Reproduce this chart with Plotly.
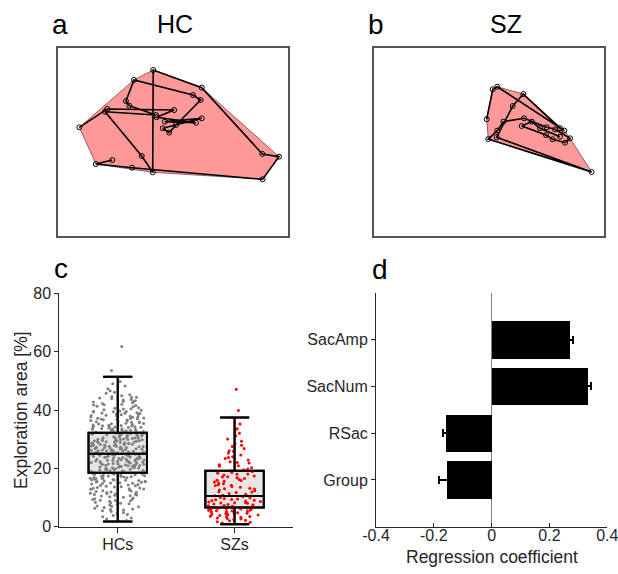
import plotly.graph_objects as go

# ---------------- data ----------------
# Panel a (HC) fixation positions (screen px), in scan order
hc_fix_x = [119, 274, 646, 549, 768, 595, 800, 583, 619, 657, 794, 751, 423, 378, 397, 545, 262, 466, 527, 530, 800, 1137, 1230, 1139, 412, 211, 302]
hc_fix_y = [432, 332, 338, 377, 407, 401, 383, 437, 461, 419, 283, 256, 174, 289, 314, 365, 347, 588, 677, 120, 216, 577, 592, 715, 652, 632, 610]

# Panel b (SZ) fixation positions (screen px), in scan order
sz_fix_x = [627, 661, 686, 1059, 1035, 831, 772, 683, 1211, 636, 686, 720, 835, 961, 1007, 1091, 1063, 994, 957, 822, 878, 924, 1035]
sz_fix_y = [388, 225, 211, 450, 437, 251, 316, 486, 675, 496, 450, 401, 383, 432, 443, 492, 516, 497, 474, 425, 401, 437, 483]

screen_w = 1280
screen_h = 1024

# Panel c: exploration area [%]
groups = ["HCs", "SZs"]
hc_area = [
    2.1, 3.0, 3.4, 3.8, 4.2, 4.5, 2.6, 4.9,
    5.2, 5.5, 5.9, 6.3, 6.6, 6.8, 7.1, 7.4, 7.7, 7.9, 8.2, 8.4, 8.6, 8.9, 9.1, 9.3, 9.5, 9.8, 6.1, 7.0, 8.0, 9.0, 5.7, 9.6, 8.7,
    10.1, 10.3, 10.5, 10.8, 11.0, 11.2, 11.4, 11.7, 11.9, 12.1, 12.3, 12.5, 12.8, 13.0, 13.2, 13.4, 13.6, 13.9, 14.1, 14.3,
    14.5, 14.8, 10.6, 11.5, 12.2, 12.9, 13.7, 14.6, 10.9, 11.8, 12.6, 13.3, 14.0, 14.9, 11.1,
    15.0, 15.1, 15.3, 15.4, 15.6, 15.7, 15.9, 16.0, 16.2, 16.3, 16.5, 16.6, 16.8, 16.9, 17.1, 17.2, 17.4, 17.5, 17.7, 17.8,
    18.0, 18.1, 18.3, 18.4, 18.6, 18.7, 18.9, 19.0, 19.2, 19.3, 19.5, 19.6, 19.8, 19.9, 15.2, 15.8, 16.4, 17.0, 17.6, 18.2,
    18.8, 19.4, 15.5, 16.1, 16.7, 17.3, 17.9, 18.5, 19.1, 19.7,
    20.0, 20.1, 20.3, 20.4, 20.5, 20.7, 20.8, 20.9, 21.0, 21.2, 21.3, 21.4, 21.6, 21.7, 21.8, 21.9, 22.1, 22.2, 22.3, 22.5,
    22.6, 22.7, 22.8, 23.0, 23.1, 23.2, 23.4, 23.5, 23.6, 23.7, 23.9, 24.0, 24.1, 24.3, 24.4, 24.5, 24.6, 24.8, 24.9, 20.2,
    20.6, 21.1, 21.5, 22.0, 22.4, 22.9, 23.3, 23.8, 24.2, 24.7, 20.35, 21.05, 21.65, 22.35, 22.95, 23.55, 24.15, 24.75, 21.35, 22.65,
    25.0, 25.1, 25.2, 25.4, 25.5, 25.6, 25.7, 25.9, 26.0, 26.1, 26.2, 26.4, 26.5, 26.6, 26.7, 26.9, 27.0, 27.1, 27.2, 27.4,
    27.5, 27.6, 27.7, 27.9, 28.0, 28.1, 28.2, 28.4, 28.5, 28.6, 28.7, 28.9, 29.0, 29.1, 29.2, 29.4, 29.5, 29.6, 29.7, 29.9,
    25.3, 25.8, 26.3, 26.8, 27.3, 27.8, 28.3, 28.8, 29.3, 29.8, 25.45, 26.05, 26.55, 27.15, 27.65, 28.25, 28.75, 29.35, 29.85,
    25.95, 26.85, 27.45, 28.45, 29.05, 29.55,
    30.0, 30.1, 30.3, 30.4, 30.6, 30.7, 30.9, 31.0, 31.2, 31.3, 31.5, 31.6, 31.8, 31.9, 32.1, 32.2, 32.4, 32.5, 32.7, 32.8,
    33.0, 33.1, 33.3, 33.4, 33.6, 33.7, 33.9, 34.0, 34.2, 34.3, 34.5, 34.6, 34.8, 34.9, 30.2, 30.8, 31.4, 32.0, 32.6, 33.2,
    33.8, 34.4, 30.5, 31.1, 31.7, 32.3, 32.9, 33.5, 34.1, 34.7, 30.35, 31.85, 33.05, 34.25, 32.45,
    35.0, 35.2, 35.4, 35.7, 35.9, 36.1, 36.3, 36.6, 36.8, 37.0, 37.2, 37.5, 37.7, 37.9, 38.1, 38.4, 38.6, 38.8, 39.0, 39.3,
    39.5, 39.7, 39.9, 35.5, 36.4, 37.3, 38.2, 39.1, 35.8, 36.9, 38.0, 39.4, 36.0, 37.6, 38.9, 35.3, 37.1, 38.5, 39.6, 36.7,
    40.1, 40.4, 40.8, 41.1, 41.5, 41.8, 42.2, 42.5, 42.9, 43.2, 43.6, 43.9, 44.3, 44.6, 44.9, 40.6, 41.3, 42.0, 42.7, 43.4,
    44.1, 40.3, 41.7, 43.0, 44.4,
    45.2, 45.7, 46.1, 46.6, 47.3, 48.2, 49.0, 49.8,
    51.2, 53.5, 61.8,
]
sz_area = [
    0.9, 1.3, 1.7, 2.0, 2.2, 2.5, 2.8, 3.0, 3.2, 3.4, 3.6, 3.8, 4.0, 4.1, 4.3, 4.5, 4.6, 4.8, 4.9, 1.5, 2.6, 3.5, 4.4,
    5.0, 5.1, 5.2, 5.4, 5.5, 5.6, 5.7, 5.9, 6.0, 6.1, 6.2, 6.4, 6.5, 6.6, 6.7, 6.9, 7.0, 7.1, 7.3, 7.5, 7.6, 7.8, 8.0,
    8.1, 8.3, 8.5, 8.6, 8.8, 9.0, 9.2, 9.3, 9.5, 9.7, 9.9, 5.3, 6.3, 7.2, 8.2, 9.1,
    10.0, 10.3, 10.5, 10.8, 11.1, 11.4, 11.7, 12.0, 12.3, 12.6, 12.9, 13.2, 13.5, 13.8, 14.1, 14.4, 14.7, 10.6, 11.9, 13.0, 14.2,
    15.0, 15.3, 15.6, 15.9, 16.2, 16.5, 16.8, 17.1, 17.4, 17.7, 18.0, 18.3, 18.6, 18.9, 19.2, 19.5, 19.8, 15.8, 17.0, 18.1, 19.0,
    20.2, 20.7, 21.2, 21.8, 22.3, 22.9, 23.4, 24.0, 24.6, 20.9, 22.0, 23.7,
    25.3, 26.0, 26.8, 27.5, 28.4, 29.3, 25.9, 27.9,
    30.1, 31.2, 32.0, 32.8, 33.6, 35.2,
    37.4, 39.8, 47.1,
]
# box statistics
box_q1 = [18.5, 6.6]
box_median = [25.0, 10.5]
box_q3 = [32.2, 19.2]
box_lower = [1.8, 0.8]
box_upper = [51.4, 37.4]

# Panel d: regression coefficients
predictors = ["Group", "RSac", "SacNum", "SacAmp"]
coefs = [-0.155, -0.158, 0.333, 0.272]
coef_err = [0.026, 0.009, 0.009, 0.009]
x_ticks_d = [-0.4, -0.2, 0, 0.2, 0.4]
x_ticklabels_d = ["-0.4", "-0.2", "0", "0.2", "0.4"]
y_ticks_c = [0, 20, 40, 60, 80]

# ---------------- helpers ----------------
# the page body margin is removed by a post script, so the figure fills the window
W, H = 618, 574
def px_x(p):
    return p / W
def px_y(p):
    return 1 - p / H

def convex_hull(xs, ys):
    pts = sorted(set(zip(xs, ys)))
    if len(pts) <= 2:
        return pts
    def cross(o, a, b):
        return (a[0] - o[0]) * (b[1] - o[1]) - (a[1] - o[1]) * (b[0] - o[0])
    lower = []
    for p in pts:
        while len(lower) >= 2 and cross(lower[-2], lower[-1], p) <= 0:
            lower.pop()
        lower.append(p)
    upper = []
    for p in reversed(pts):
        while len(upper) >= 2 and cross(upper[-2], upper[-1], p) <= 0:
            upper.pop()
        upper.append(p)
    hull = lower[:-1] + upper[:-1]
    hull.append(hull[0])
    return hull

FONT = "Liberation Sans, Arial, Helvetica, sans-serif"
TXT = "#262626"

fig = go.Figure()

# ---------- panels a & b ----------
for xs, ys, xa, ya in [(hc_fix_x, hc_fix_y, "x", "y"), (sz_fix_x, sz_fix_y, "x2", "y2")]:
    hull = convex_hull(xs, ys)
    fig.add_trace(go.Scatter(
        x=[p[0] for p in hull], y=[p[1] for p in hull], mode="lines",
        fill="toself", fillcolor="rgb(255,153,153)",
        line=dict(color="rgba(90,60,60,0.9)", width=0.8),
        xaxis=xa, yaxis=ya, showlegend=False, hoverinfo="skip"))
    fig.add_trace(go.Scatter(
        x=xs, y=ys, mode="lines+markers",
        line=dict(color="black", width=1.6),
        marker=dict(symbol="circle-open", size=5, color="black", line=dict(width=1)),
        xaxis=xa, yaxis=ya, showlegend=False))

# ---------- panel c ----------
cat_pos = [1, 2]
fig.add_trace(go.Box(
    x=cat_pos, q1=box_q1, median=box_median, q3=box_q3,
    lowerfence=box_lower, upperfence=box_upper,
    width=0.5, whiskerwidth=0.5, boxpoints=False,
    fillcolor="rgb(230,230,230)", line=dict(color="black", width=2),
    xaxis="x3", yaxis="y3", showlegend=False))
for vals, pos, col in [(hc_area, cat_pos[0], "rgb(128,128,128)"), (sz_area, cat_pos[1], "rgb(255,0,0)")]:
    fig.add_trace(go.Box(
        y=vals, x0=pos, width=0.5, boxpoints="all", jitter=0.95, pointpos=0,
        fillcolor="rgba(0,0,0,0)", line=dict(color="rgba(0,0,0,0)", width=0),
        marker=dict(color=col, size=3),
        xaxis="x3", yaxis="y3", showlegend=False))
fig.add_trace(go.Box(
    x=cat_pos, q1=box_q1, median=box_median, q3=box_q3,
    lowerfence=box_lower, upperfence=box_upper,
    width=0.5, whiskerwidth=0.5, boxpoints=False,
    fillcolor="rgba(0,0,0,0)", line=dict(color="black", width=2),
    xaxis="x3", yaxis="y3", showlegend=False))

# ---------- panel d ----------
pred_pos = [1, 2, 3, 4]
fig.add_trace(go.Bar(
    x=coefs, y=pred_pos, orientation="h", width=0.8,
    marker=dict(color="black", line=dict(width=0)),
    error_x=dict(type="data", array=coef_err, color="black", thickness=2, width=4),
    xaxis="x4", yaxis="y4", showlegend=False))

frame_ax = dict(showline=True, mirror=True, linecolor="#555555", linewidth=1.5,
                showticklabels=False, ticks="", showgrid=False, zeroline=False, automargin=False)
tick_ax = dict(showline=True, linecolor=TXT, linewidth=1, tickcolor=TXT,
               showgrid=False, automargin=False, tickfont=dict(size=16))

fig.update_layout(
    width=W, height=H, margin=dict(l=0, r=0, t=0, b=0, autoexpand=False),
    paper_bgcolor="white", plot_bgcolor="white",
    font=dict(family=FONT, color=TXT, size=16),
    boxmode="overlay", bargap=0,
    xaxis=dict(domain=[px_x(58), px_x(288)], range=[0, screen_w], anchor="y", **frame_ax),
    yaxis=dict(domain=[px_y(236), px_y(48)], range=[screen_h, 0], anchor="x", **frame_ax),
    xaxis2=dict(domain=[px_x(374), px_x(604)], range=[0, screen_w], anchor="y2", **frame_ax),
    yaxis2=dict(domain=[px_y(236), px_y(48)], range=[screen_h, 0], anchor="x2", **frame_ax),
    xaxis3=dict(domain=[px_x(59.3), px_x(293)], range=[0.5, 2.5], anchor="y3",
                tickvals=cat_pos, ticktext=groups, zeroline=False,
                ticks="outside", ticklen=5, ticklabelstandoff=-2, **tick_ax),
    yaxis3=dict(domain=[px_y(526.7), px_y(293.3)], range=[0, 80], anchor="x3",
                tickvals=y_ticks_c, zeroline=False, ticks="outside", ticklen=4, **tick_ax),
    xaxis4=dict(domain=[px_x(376), px_x(607.3)], range=[-0.4, 0.4], anchor="y4",
                tickvals=x_ticks_d, ticktext=x_ticklabels_d, ticks="inside", ticklen=4,
                ticklabelstandoff=-6, ticklabeloverflow="allow",
                zeroline=True, zerolinecolor="#808080", zerolinewidth=1, **tick_ax),
    yaxis4=dict(domain=[px_y(526.7), px_y(292.7)], range=[0, 5], anchor="x4",
                tickvals=pred_pos, ticktext=predictors, zeroline=False,
                ticks="outside", ticklen=4, **tick_ax),
)

# axis titles
fig.add_annotation(text="Exploration area [%]", x=px_x(21), y=px_y(410), xref="paper", yref="paper",
                   textangle=-90, xanchor="center", yanchor="middle", showarrow=False,
                   font=dict(size=17.5, color=TXT, family=FONT))
fig.add_annotation(text="Regression coefficient", x=px_x(491.7), y=px_y(557), xref="paper", yref="paper",
                   xanchor="center", yanchor="middle", showarrow=False,
                   font=dict(size=17.5, color=TXT, family=FONT))

labels = [
    ("a", 50, 33, "left", 28), ("b", 366, 33, "left", 28),
    ("c", 52, 277, "left", 28), ("d", 370, 278, "left", 28),
    ("HC", 175, 32, "center", 25), ("SZ", 506, 32, "center", 25),
]
for txt, x, base, anchor, size in labels:
    fig.add_annotation(text=txt, x=px_x(x), y=px_y(base - 0.32 * size), xref="paper", yref="paper",
                       xanchor=anchor, yanchor="middle", showarrow=False,
                       font=dict(size=size, color="black", family=FONT))

fig.write_html("out.html", config={"displayModeBar": False},
               post_script="document.body.style.margin='0';document.body.style.overflow='hidden';")
